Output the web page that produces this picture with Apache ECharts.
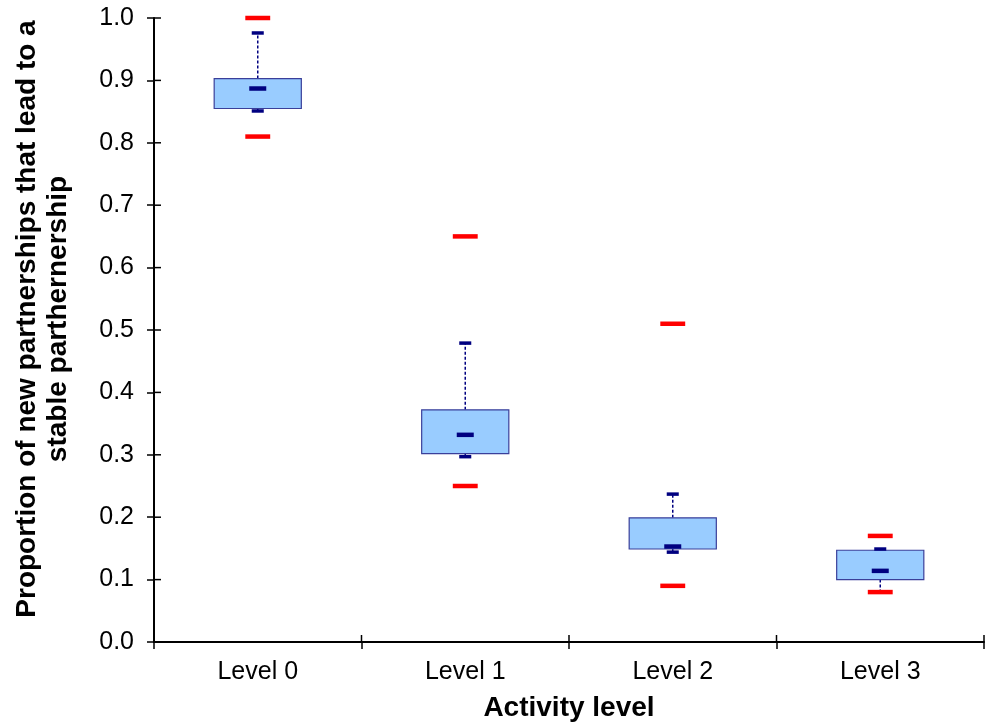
<!DOCTYPE html>
<html>
<head>
<meta charset="utf-8">
<script src="https://cdn.jsdelivr.net/npm/echarts@6/dist/echarts.min.js"></script>
<style>
  html, body { margin: 0; padding: 0; background: #fff; }
  #chart { width: 985px; height: 723px; }
</style>
</head>
<body>
<div id="chart"></div>
<script>
  // 数据
  const categories = ['Level 0', 'Level 1', 'Level 2', 'Level 3'];
  const maxValues = [1.0, 0.65, 0.51, 0.17];
  const upperWhisker = [0.976, 0.479, 0.237, 0.149];
  const q3Values = [0.903, 0.372, 0.199, 0.147];
  const medianValues = [0.887, 0.332, 0.153, 0.114];
  const q1Values = [0.855, 0.302, 0.149, 0.100];
  const lowerWhisker = [0.851, 0.297, 0.144, 0.080];
  const minValues = [0.81, 0.25, 0.09, 0.08];
  // 刻度
  const yTickValues = [0, 0.1, 0.2, 0.3, 0.4, 0.5, 0.6, 0.7, 0.8, 0.9, 1.0];
  const xBoundaries = [0, 1, 2, 3, 4];

  const boxData = categories.map((c, i) => [
    i, lowerWhisker[i], q1Values[i], medianValues[i], q3Values[i], upperWhisker[i], minValues[i], maxValues[i]
  ]);

  const navy = '#000080';
  const font = 'Liberation Sans, Arial';
  const tickLen = 7;

  function renderBox(params, api) {
    const idx = api.value(0);
    const band = api.size([1, 0])[0];
    const pLow = api.coord([idx, api.value(1)]);
    const pQ1 = api.coord([idx, api.value(2)]);
    const pMed = api.coord([idx, api.value(3)]);
    const pQ3 = api.coord([idx, api.value(4)]);
    const pUp = api.coord([idx, api.value(5)]);
    const pMin = api.coord([idx, api.value(6)]);
    const pMax = api.coord([idx, api.value(7)]);
    const cx = pQ1[0];
    const boxW = band * 0.42;
    const capW = band * 0.058;
    const medW = band * 0.082;
    const redW = band * 0.12;
    const dash = { stroke: navy, lineWidth: 1.5, lineDash: [3, 2] };
    const bar = (y, w, h, color) => ({
      type: 'rect',
      shape: { x: cx - w / 2, y: y - h / 2, width: w, height: h },
      style: { fill: color }
    });
    return {
      type: 'group',
      children: [
        { type: 'line', shape: { x1: cx, y1: pQ3[1], x2: cx, y2: pUp[1] }, style: dash },
        { type: 'line', shape: { x1: cx, y1: pQ1[1], x2: cx, y2: pLow[1] }, style: dash },
        {
          type: 'rect',
          shape: { x: cx - boxW / 2, y: pQ3[1], width: boxW, height: pQ1[1] - pQ3[1] },
          style: { fill: '#99ccff', stroke: '#3a3f9a', lineWidth: 1.2 }
        },
        bar(pUp[1], capW, 3.5, navy),
        bar(pLow[1], capW, 3.5, navy),
        bar(pMed[1], medW, 4.5, navy),
        bar(pMax[1], redW, 4.5, '#ff0000'),
        bar(pMin[1], redW, 4.5, '#ff0000')
      ]
    };
  }

  // y 轴刻度向内的一半（向外的一半由坐标轴自己画）
  function renderYTick(params, api) {
    const p = api.coord([0, api.value(0)]);
    const x0 = params.coordSys.x;
    return {
      type: 'line',
      shape: { x1: x0, y1: p[1], x2: x0 + tickLen, y2: p[1] },
      style: { stroke: '#000', lineWidth: 1.5 }
    };
  }

  // x 轴分类边界处刻度向内的一半
  function renderXTick(params, api) {
    const i = api.value(0);
    const band = api.size([1, 0])[0];
    const last = categories.length - 1;
    const p = api.coord([Math.min(i, last), 0]);
    const x = p[0] + (i > last ? band / 2 : -band / 2);
    return {
      type: 'line',
      shape: { x1: x, y1: p[1], x2: x, y2: p[1] - tickLen },
      style: { stroke: '#000', lineWidth: 1.5 }
    };
  }

  const chart = echarts.init(document.getElementById('chart'));
  const option = {
    animation: false,
    backgroundColor: '#fff',
    grid: { left: 154, top: 18, right: 1, bottom: 81, containLabel: false, outerBoundsMode: 'none' },
    xAxis: {
      type: 'category',
      data: categories,
      boundaryGap: true,
      axisLine: { lineStyle: { color: '#000', width: 2 } },
      axisTick: { show: true, length: tickLen, lineStyle: { color: '#000', width: 1.5 } },
      axisLabel: { color: '#000', fontSize: 25, fontFamily: font, margin: 18 },
      name: 'Activity level',
      nameLocation: 'middle',
      nameGap: 52,
      nameTextStyle: { color: '#000', fontSize: 28, fontWeight: 'bold', fontFamily: font }
    },
    yAxis: {
      type: 'value',
      min: 0,
      max: 1,
      interval: 0.1,
      splitLine: { show: false },
      axisLine: { show: true, lineStyle: { color: '#000', width: 2 } },
      axisTick: { show: true, length: tickLen, lineStyle: { color: '#000', width: 1.5 } },
      axisLabel: {
        color: '#000', fontSize: 25, fontFamily: font, margin: 20,
        formatter: (v) => v.toFixed(1)
      },
      name: 'Proportion of new partnerships that lead to a\nstable parthernership',
      nameLocation: 'middle',
      nameGap: 80,
      nameTextStyle: {
        color: '#000', fontSize: 28, fontWeight: 'bold', fontFamily: font,
        lineHeight: 31, align: 'center', padding: [0, 0, 0, 22]
      }
    },
    series: [
      {
        type: 'custom',
        name: 'box',
        renderItem: renderBox,
        encode: { x: 0, y: [1, 2, 3, 4, 5, 6, 7] },
        data: boxData
      },
      {
        type: 'custom',
        name: 'yTicks',
        silent: true,
        renderItem: renderYTick,
        encode: { y: 0 },
        data: yTickValues.map((v) => [v])
      },
      {
        type: 'custom',
        name: 'xTicks',
        silent: true,
        renderItem: renderXTick,
        encode: { x: 0 },
        data: xBoundaries.map((v) => [v])
      }
    ]
  };
  chart.setOption(option);
</script>
</body>
</html>
